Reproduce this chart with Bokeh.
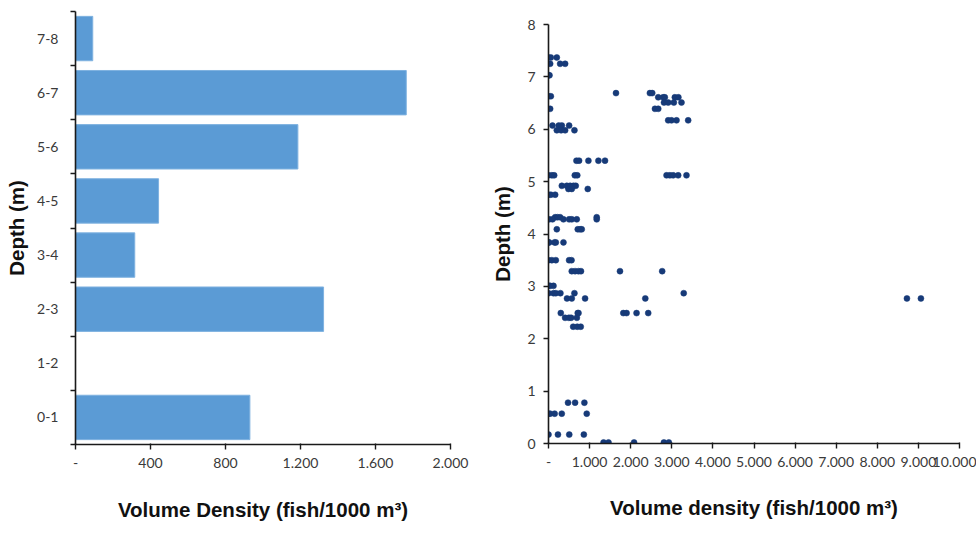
from bokeh.plotting import figure
from bokeh.layouts import row, column
from bokeh.models import FixedTicker, Spacer
from bokeh.embed import file_html
from bokeh.resources import INLINE

# ---- Left chart data: volume density per depth class ----
depth_classes = ["0-1", "1-2", "2-3", "3-4", "4-5", "5-6", "6-7", "7-8"]
class_density = [930, 0, 1323, 316, 443, 1186, 1764, 92]
left_x_ticks = [0, 400, 800, 1200, 1600, 2000]
left_x_labels = ["-", "400", "800", "1.200", "1.600", "2.000"]

# ---- Right chart data: individual samples (density, depth) ----
pt_depth = (
    [7.37] * 3 + [7.25] * 3 + [7.03] * 2 + [6.69] * 3 + [6.63] * 2 + [6.61] * 5 +
    [6.51] * 4 + [6.39] * 3 + [6.17] * 4 + [6.07] * 4 + [5.98] * 4 + [5.40] * 5 +
    [5.12] * 10 + [4.92] * 5 + [4.86] * 3 + [4.75] * 3 + [4.32] * 4 + [4.28] * 7 +
    [4.09] * 4 + [3.84] * 5 + [3.50] * 5 + [3.29] * 6 + [3.01] * 3 + [2.87] * 6 +
    [2.77] * 6 + [2.49] * 7 + [2.40] * 4 + [2.23] * 3 + [0.78] * 3 + [0.57] * 5 +
    [0.17] * 4 + [0.02] * 5
)
pt_density = (
    [0, 57, 202] + [40, 283, 405] + [0, 24] + [1642, 2467, 2524] + [0, 57] +
    [2670, 2790, 2830, 3074, 3160] +
    [2810, 2912, 3050, 3236] + [40, 2590, 2670] + [2912, 2993, 3115, 3398] +
    [97, 250, 324, 502] + [202, 307, 405, 631] + [680, 744, 971, 1214, 1375] +
    [0, 81, 138, 640, 700, 2872, 2953, 3034, 3155, 3357] +
    [324, 445, 526, 607, 663] + [485, 566, 955] + [0, 57, 162] +
    [162, 218, 283, 1173] + [16, 97, 364, 502, 566, 688, 1173] +
    [202, 712, 769, 809] + [0, 16, 146, 178, 364] + [0, 81, 178, 501, 560] +
    [566, 647, 728, 790, 1739, 2766] + [0, 40, 121] +
    [0, 121, 178, 290, 631, 3290] + [450, 566, 890, 2355, 8721, 9061] +
    [299, 711, 1820, 1900, 2142, 2426, 730] + [404, 495, 550, 690] +
    [600, 700, 784] + [475, 647, 873] + [0, 40, 150, 323, 930] +
    [0, 230, 505, 860] + [1340, 1460, 2082, 2808, 2928]
)
right_x_ticks = list(range(0, 10001, 1000))
right_x_labels = ["-", "1.000", "2.000", "3.000", "4.000", "5.000",
                  "6.000", "7.000", "8.000", "9.000", "10.000"]
right_y_ticks = list(range(0, 9))

BAR_COLOR = "#5B9BD5"
DOT_COLOR = "#173A78"
AXIS_COLOR = "#1a1a1a"
TICK_FONT = "Lato"
LABEL_FONT = "Liberation Sans"


def style(p):
    p.xgrid.visible = False
    p.ygrid.visible = False
    p.outline_line_color = None
    p.background_fill_color = "white"
    for ax in (p.xaxis[0], p.yaxis[0]):
        ax.axis_line_color = AXIS_COLOR
        ax.axis_line_width = 1.6
        ax.major_tick_line_color = AXIS_COLOR
        ax.major_tick_line_width = 1.4
        ax.minor_tick_line_color = AXIS_COLOR
        ax.minor_tick_line_width = 1.4
        ax.major_label_text_font = TICK_FONT
        ax.major_label_text_font_size = "14px"
        ax.major_label_text_color = "#3a3a3a"
        ax.axis_label_text_font = LABEL_FONT
        ax.axis_label_text_font_style = "bold"
        ax.axis_label_text_font_size = "20.5px"
        ax.axis_label_text_color = "#111111"


# ---------------- Left: horizontal bars ----------------
p1 = figure(width=488, height=535, x_range=(0, 2000), y_range=(0, 8),
            output_backend="svg", toolbar_location=None,
            min_border_left=75, min_border_right=38,
            min_border_top=11, min_border_bottom=91)
ypos = [i + 0.5 for i in range(len(depth_classes))]
p1.hbar(y=ypos, left=0, right=class_density, height=0.82,
        fill_color=BAR_COLOR, line_color="#7fb2e0", line_width=1)
style(p1)
p1.yaxis[0].ticker = FixedTicker(ticks=ypos, minor_ticks=list(range(0, 9)))
p1.yaxis[0].major_label_overrides = {y: c for y, c in zip(ypos, depth_classes)}
p1.yaxis[0].major_tick_out = 0
p1.yaxis[0].major_tick_in = 0
p1.yaxis[0].minor_tick_out = 5
p1.yaxis[0].minor_tick_in = 0
p1.yaxis[0].major_label_standoff = 12
p1.yaxis[0].axis_label = "Depth (m)"
p1.yaxis[0].axis_label_standoff = 6
p1.xaxis[0].ticker = FixedTicker(ticks=left_x_ticks, minor_ticks=[])
p1.xaxis[0].major_label_overrides = {t: l for t, l in zip(left_x_ticks, left_x_labels)}
p1.xaxis[0].major_tick_out = 5
p1.xaxis[0].major_tick_in = 1
p1.xaxis[0].major_label_standoff = 8
p1.xaxis[0].axis_label = "Volume Density (fish/1000 m³)"
p1.xaxis[0].axis_label_standoff = 27

# ---------------- Right: scatter ----------------
p2 = figure(width=488, height=522, x_range=(0, 10000), y_range=(0, 8),
            output_backend="svg", toolbar_location=None,
            min_border_left=59, min_border_right=17,
            min_border_top=11, min_border_bottom=92)
p2.scatter(x=pt_density, y=pt_depth, size=6, fill_color=DOT_COLOR,
           line_color=DOT_COLOR, line_width=0.5)
style(p2)
p2.xaxis[0].ticker = FixedTicker(ticks=right_x_ticks, minor_ticks=[])
p2.xaxis[0].major_label_overrides = {t: l for t, l in zip(right_x_ticks, right_x_labels)}
p2.xaxis[0].major_tick_out = 5
p2.xaxis[0].major_tick_in = 1
p2.xaxis[0].major_label_standoff = 8
p2.xaxis[0].axis_label = "Volume density (fish/1000 m³)"
p2.xaxis[0].axis_label_standoff = 26
p2.yaxis[0].ticker = FixedTicker(ticks=right_y_ticks, minor_ticks=[])
p2.yaxis[0].major_tick_out = 5
p2.yaxis[0].major_tick_in = 0
p2.yaxis[0].major_label_standoff = 8
p2.yaxis[0].axis_label = "Depth (m)"
p2.yaxis[0].axis_label_standoff = 10

layout = row(p1, column(Spacer(height=13, width=488), p2))
open("out.html", "w").write(file_html(layout, INLINE))
